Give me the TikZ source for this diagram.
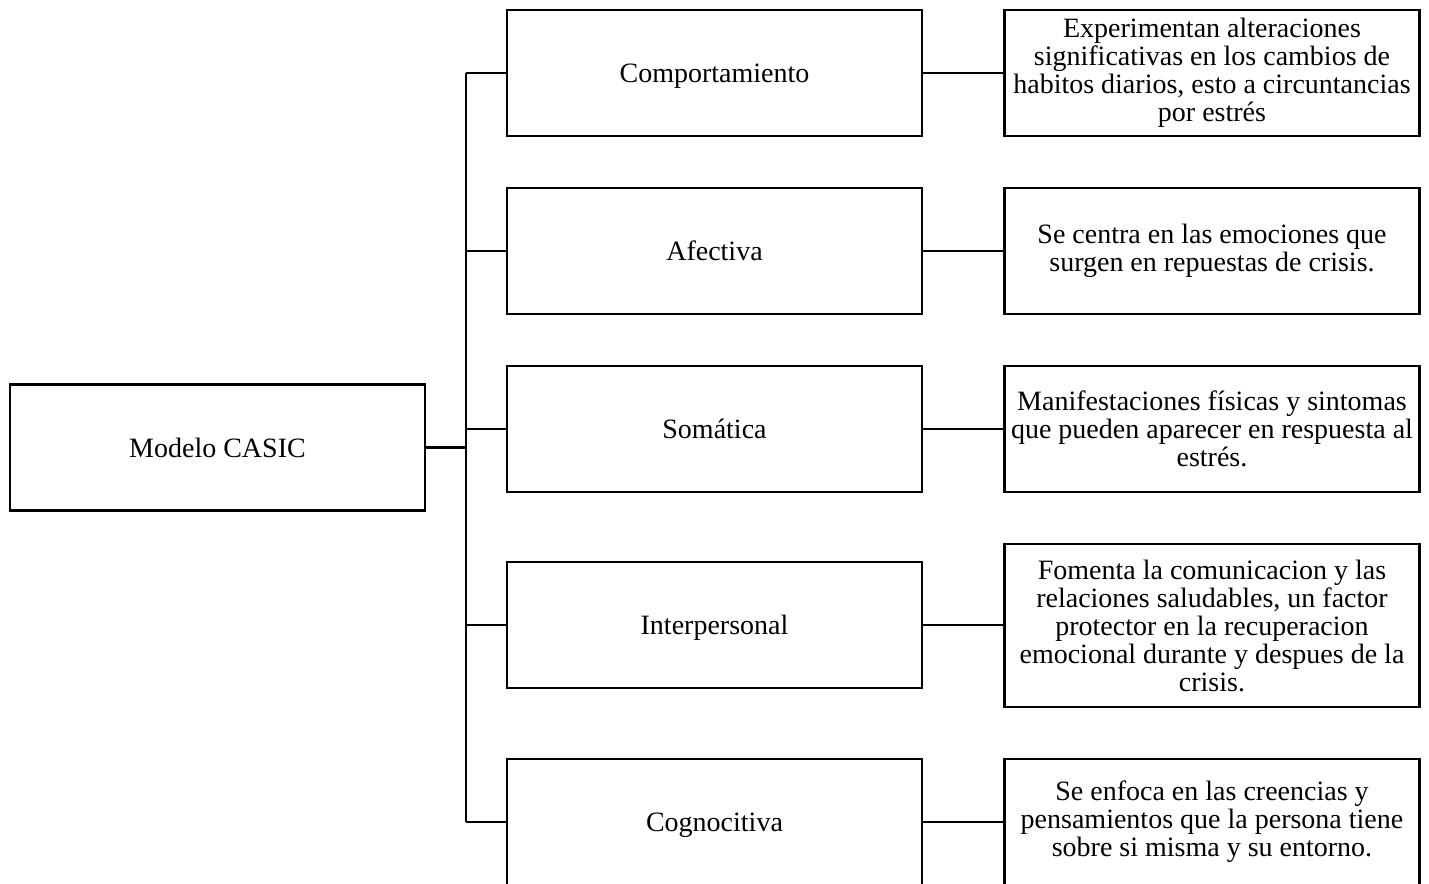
\documentclass[tikz,border=0pt]{standalone}
\usepackage{fontspec}
\setmainfont{Liberation Serif}
\begin{document}
\begin{tikzpicture}[x=0.75pt,y=-0.75pt,
  box/.style={draw=black,line width=2.1pt,fill=white,minimum width=311.25pt,minimum height=94.5pt,
    inner sep=0pt,align=center,font=\fontsize{21}{21}\selectfont},
  oneline/.style={text depth=0pt},
  conn/.style={draw=black,line width=1.8pt}]
\useasboundingbox (0,0) rectangle (1429,883);
% root
\node[box,oneline] (casic) at (217.5,447.5) {Modelo CASIC};
% middle
\node[box,oneline] (m1) at (714.5,73) {Comportamiento};
\node[box,oneline] (m2) at (714.5,251) {Afectiva};
\node[box,oneline] (m3) at (714.5,429) {Somática};
\node[box,oneline] (m4) at (714.5,625) {Interpersonal};
\node[box,oneline] (m5) at (714.5,822) {Cognocitiva};
% right
\node[box] (r1) at (1212,73) {Experimentan alteraciones\\significativas en los cambios de\\habitos diarios, esto a circuntancias\\por estrés};
\node[box] (r2) at (1212,251) {Se centra en las emociones que\\surgen en repuestas de crisis.};
\node[box] (r3) at (1212,429) {Manifestaciones físicas y sintomas\\que pueden aparecer en respuesta al\\estrés.};
\node[box,minimum height=122.25pt] (r4) at (1212,625.5) {Fomenta la comunicacion y las\\relaciones saludables, un factor\\protector en la recuperacion\\emocional durante y despues de la\\crisis.};
\node[box] (r5) at (1212,822) {Se enfoca en las creencias y\\pensamientos que la persona tiene\\sobre si misma y su entorno.};
% trunk
\coordinate (t1) at (466,73);
\coordinate (t5) at (466,822);
\coordinate (tc) at (466,447.5);
\draw[conn] (t1) -- (t5);
\draw[conn] (casic.east) -- (tc);
\foreach \i in {1,...,5} {
  \draw[conn] (m\i.west -| t1) -- (m\i.west);
  \draw[conn] (m\i.east) -- (m\i.east -| r\i.west);
}
\end{tikzpicture}
\end{document}
